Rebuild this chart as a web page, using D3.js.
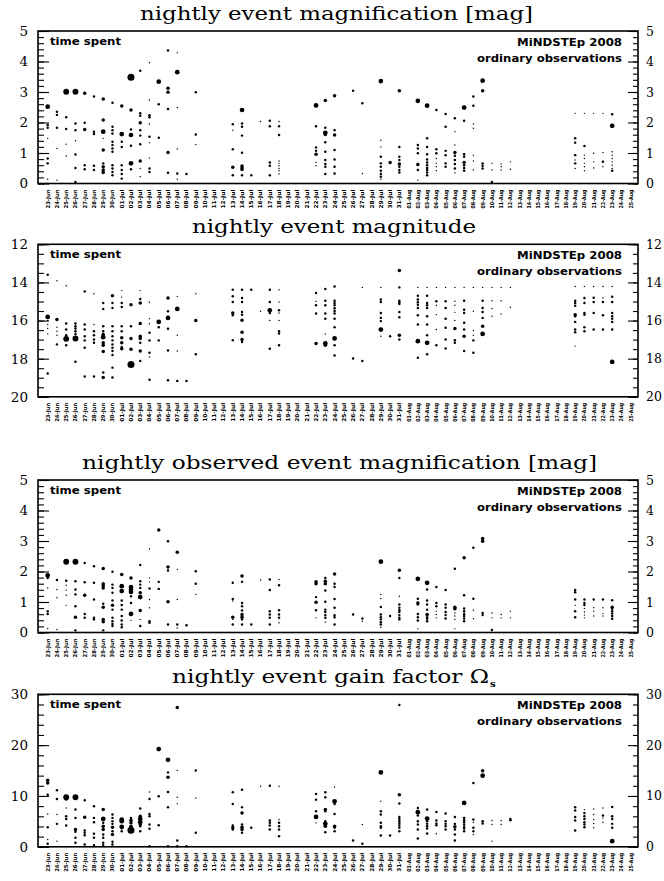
<!DOCTYPE html>
<html>
<head>
<meta charset="utf-8">
<script src="https://cdn.jsdelivr.net/npm/d3@7"></script>
<style>
  body { margin: 0; background: #fff; }
  svg { display: block; }
</style>
</head>
<body>
<svg id="chart" width="664" height="881"></svg>
<script>
// nights of the 2008 season shown on every x axis
const nights = [
  '23-Jun','24-Jun','25-Jun','26-Jun','27-Jun','28-Jun','29-Jun','30-Jun',
  '01-Jul','02-Jul','03-Jul','04-Jul','05-Jul','06-Jul','07-Jul','08-Jul',
  '09-Jul','10-Jul','11-Jul','12-Jul','13-Jul','14-Jul','15-Jul','16-Jul',
  '17-Jul','18-Jul','19-Jul','20-Jul','21-Jul','22-Jul','23-Jul','24-Jul',
  '25-Jul','26-Jul','27-Jul','28-Jul','29-Jul','30-Jul','31-Jul','01-Aug',
  '02-Aug','03-Aug','04-Aug','05-Aug','06-Aug','07-Aug','08-Aug','09-Aug',
  '10-Aug','11-Aug','12-Aug','13-Aug','14-Aug','15-Aug','16-Aug','17-Aug',
  '18-Aug','19-Aug','20-Aug','21-Aug','22-Aug','23-Aug','24-Aug','25-Aug',
];

// [night, [[value, time spent (min)], ...]]
const magnification = [
  ['23-Jun', [[2.52,55],[1.92,15],[1.83,15],[1.48,5],[0.82,15],[0.66,15],[0.14,5]]],
  ['24-Jun', [[2.35,15],[2.25,15],[1.83,15],[1.15,5],[0.11,5]]],
  ['25-Jun', [[3.01,85],[2.17,15],[1.79,15],[1.29,5],[0.9,5]]],
  ['26-Jun', [[3.01,85],[1.97,15],[1.75,15],[1.4,5],[0.95,15],[0.51,15],[0.05,15]]],
  ['27-Jun', [[2.96,30],[1.99,15],[1.77,30],[0.6,15],[0.47,15]]],
  ['28-Jun', [[2.85,15],[1.7,15],[1.62,15],[0.58,15],[0.44,15]]],
  ['29-Jun', [[2.77,30],[2.08,30],[1.7,55],[1.48,5],[1.1,30],[0.66,15],[0.55,30],[0.44,30],[0.36,30]]],
  ['30-Jun', [[2.65,15],[1.86,15],[1.75,15],[1.64,15],[1.37,15],[1.26,15],[1.15,15],[1.04,15],[0.6,15],[0.49,15],[0.38,15],[0.27,15]]],
  ['01-Jul', [[2.54,30],[1.62,55],[1.37,15],[1.2,15],[0.6,15],[0.44,15],[0.31,15],[0.16,15]]],
  ['02-Jul', [[3.48,120],[2.41,30],[1.77,15],[1.59,55],[1.24,15],[0.66,55],[0.47,15]]],
  ['03-Jul', [[3.7,15],[2.3,15],[2.22,15],[1.99,30],[1.75,15],[1.57,15],[1.29,15],[0.74,30],[0.49,5],[0.22,5]]],
  ['04-Jul', [[3.96,5],[2.74,5],[2.24,15],[2.17,15],[1.95,5],[1.53,15],[1.34,5],[0.84,5],[0.49,15],[0.38,15]]],
  ['05-Jul', [[3.34,55],[2.6,15],[1.5,15]]],
  ['06-Jul', [[4.36,15],[3.12,30],[2.99,30],[2.44,15],[1.02,30],[0.35,15]]],
  ['07-Jul', [[4.29,5],[3.65,55],[2.49,5],[1.13,5],[0.33,15],[0.14,5]]],
  ['08-Jul', [[0.31,15]]],
  ['09-Jul', [[2.99,15],[1.61,15],[1.28,5]]],
  ['13-Jul', [[1.94,15],[1.75,5],[1.12,15],[0.53,30],[0.27,15]]],
  ['14-Jul', [[2.41,55],[1.97,15],[1.86,15],[1.57,15],[1.01,15],[0.57,30],[0.51,30],[0.46,30],[0.27,15]]],
  ['15-Jul', [[0.27,15]]],
  ['16-Jul', [[2.03,5]]],
  ['17-Jul', [[2.06,15],[1.88,15],[0.69,15],[0.58,15],[0.27,15]]],
  ['18-Jul', [[2.03,5],[1.88,15],[1.59,15],[0.74,5],[0.66,5],[0.58,5],[0.49,5],[0.42,5],[0.31,5]]],
  ['22-Jul', [[2.56,55],[1.88,15],[1.18,15],[1.07,15],[0.96,30],[0.69,5],[0.58,5]]],
  ['23-Jul', [[2.72,30],[1.83,15],[1.66,55],[1.61,30],[1.35,15],[1.04,15],[0.77,15],[0.64,15],[0.55,15],[0.31,15]]],
  ['24-Jul', [[2.88,30],[1.75,15],[1.59,30],[1.1,15],[0.79,15],[0.55,15],[0.33,15]]],
  ['26-Jul', [[3.04,15]]],
  ['27-Jul', [[2.63,15],[0.33,5]]],
  ['29-Jul', [[3.36,55],[1.42,5],[1.2,5],[0.88,15],[0.66,15],[0.55,15],[0.42,15],[0.31,15],[0.22,15],[0.14,5]]],
  ['30-Jul', [[0.69,30]]],
  ['31-Jul', [[3.04,30],[1.2,15],[0.88,15],[0.77,15],[0.64,30],[0.55,15],[0.44,15],[0.36,15]]],
  ['02-Aug', [[2.71,55],[1.26,15],[1.15,15],[0.99,15],[0.62,30],[0.44,15],[0.11,5]]],
  ['03-Aug', [[2.55,55],[1.48,15],[1.2,15],[0.96,15],[0.79,15],[0.69,15],[0.6,15],[0.51,15],[0.44,15],[0.36,15],[0.27,15]]],
  ['04-Aug', [[2.41,15],[1.12,15],[0.99,15],[0.82,5],[0.66,5],[0.55,5],[0.42,5]]],
  ['05-Aug', [[2.28,15],[1.86,15],[1.07,15],[0.93,15],[0.66,15],[0.55,15]]],
  ['06-Aug', [[2.14,15],[1.7,5],[1.26,5],[1.02,30],[0.91,15],[0.77,15],[0.64,15],[0.49,15],[0.35,5]]],
  ['07-Aug', [[2.49,55],[2.06,15],[0.96,15],[0.88,15],[0.69,30],[0.6,15],[0.51,15],[0.42,15]]],
  ['08-Aug', [[2.85,15],[2.55,15],[1.95,5],[1.81,5],[0.93,5],[0.74,5],[0.44,5]]],
  ['09-Aug', [[3.37,55],[3.04,30],[0.66,15],[0.58,15],[0.49,15]]],
  ['10-Aug', [[0.66,5],[0.44,5],[0.05,15]]],
  ['11-Aug', [[0.64,5],[0.55,5],[0.44,5]]],
  ['12-Aug', [[0.71,5],[0.47,5]]],
  ['19-Aug', [[2.3,5],[1.48,15],[1.34,15],[0.93,15],[0.77,5],[0.66,15],[0.49,5]]],
  ['20-Aug', [[2.3,5],[1.23,15],[0.93,5],[0.82,5],[0.66,5],[0.55,5],[0.42,5]]],
  ['21-Aug', [[2.3,5],[0.99,5],[0.71,5],[0.51,5]]],
  ['22-Aug', [[2.3,5],[1.02,5],[0.71,15],[0.55,5]]],
  ['23-Aug', [[2.27,15],[1.89,55],[1.04,5],[0.93,5],[0.82,5],[0.71,5],[0.6,5],[0.49,5],[0.42,15]]],
];

const magnitude = [
  ['23-Jun', [[13.6,15],[15.81,55],[16.0,5],[16.21,5],[16.42,5],[16.7,5],[18.78,15]]],
  ['24-Jun', [[13.91,5],[15.95,30],[16.35,5],[16.56,5],[16.77,5],[17.25,15]]],
  ['25-Jun', [[14.17,5],[16.16,15],[16.47,15],[16.77,15],[16.96,85],[17.3,15]]],
  ['26-Jun', [[16.16,15],[16.3,15],[16.42,15],[16.56,15],[16.7,15],[16.94,85],[18.16,15]]],
  ['27-Jun', [[14.47,15],[16.21,15],[16.47,15],[16.82,15],[17.04,15],[17.43,15],[18.94,15]]],
  ['28-Jun', [[14.59,5],[16.21,5],[16.56,15],[16.77,15],[16.99,15],[17.17,15],[18.94,15]]],
  ['29-Jun', [[15.08,15],[15.39,15],[16.3,15],[16.56,15],[16.73,30],[16.87,55],[17.17,30],[17.29,30],[17.63,30],[18.73,15],[18.99,30]]],
  ['30-Jun', [[14.7,30],[15.08,15],[15.34,15],[16.3,15],[16.56,15],[16.82,15],[17.04,15],[17.25,15],[17.43,15],[17.6,15],[17.81,15],[18.47,15],[18.99,15]]],
  ['01-Jul', [[14.43,5],[14.77,5],[15.08,15],[15.29,15],[16.3,15],[16.56,15],[16.9,30],[17.17,30],[17.39,15],[17.48,30]]],
  ['02-Jul', [[15.17,30],[16.3,15],[16.94,30],[17.51,30],[18.3,120]]],
  ['03-Jul', [[14.43,5],[14.87,15],[15.08,30],[16.16,30],[16.82,30],[16.94,30],[17.17,15],[17.6,30],[18.12,15]]],
  ['04-Jul', [[15.04,5],[15.9,5],[16.17,5],[16.64,15],[17.04,15],[17.69,15],[17.91,5],[19.11,15]]],
  ['05-Jul', [[16.07,55],[16.35,15],[17.04,15]]],
  ['06-Jul', [[14.82,30],[15.51,15],[15.86,55],[16.43,15],[17.57,15],[19.13,15]]],
  ['07-Jul', [[14.73,5],[15.39,55],[16.77,5],[17.6,5],[19.17,15]]],
  ['08-Jul', [[19.17,15]]],
  ['09-Jul', [[14.59,5],[16.0,30],[17.77,15]]],
  ['13-Jul', [[14.38,15],[14.73,15],[15.03,15],[15.6,30],[15.72,15],[17.03,15]]],
  ['14-Jul', [[14.38,15],[14.82,15],[15.03,15],[15.55,15],[15.69,15],[15.98,30],[16.61,30],[16.99,30],[17.13,15]]],
  ['15-Jul', [[14.38,15]]],
  ['16-Jul', [[15.51,5]]],
  ['17-Jul', [[14.38,15],[15.03,15],[15.46,55],[15.6,15],[16.0,5],[17.48,15]]],
  ['18-Jul', [[14.38,5],[15.03,5],[15.46,15],[15.6,5],[16.0,5],[16.56,15],[16.68,15],[17.3,15]]],
  ['22-Jul', [[14.56,15],[14.99,5],[15.2,15],[15.63,15],[17.2,30]]],
  ['23-Jul', [[14.35,15],[14.96,15],[15.2,15],[15.63,15],[15.91,15],[16.7,5],[17.2,55],[17.3,30]]],
  ['24-Jul', [[14.21,15],[14.96,15],[15.08,15],[15.2,15],[15.35,15],[15.5,15],[15.63,15],[15.9,15],[16.35,15],[16.94,55],[17.3,15],[17.83,15]]],
  ['26-Jul', [[17.99,15]]],
  ['27-Jul', [[14.26,5],[18.12,15]]],
  ['29-Jul', [[14.26,5],[14.9,15],[15.03,15],[15.6,15],[15.86,15],[16.03,15],[16.47,55],[16.82,5]]],
  ['30-Jul', [[16.82,15]]],
  ['31-Jul', [[13.37,30],[14.26,15],[14.96,15],[15.04,15],[15.13,15],[15.55,15],[15.83,15],[16.77,30],[16.99,15]]],
  ['02-Aug', [[14.26,5],[14.7,15],[14.9,15],[15.04,15],[15.17,15],[15.34,15],[15.72,15],[16.21,15],[17.08,55],[17.95,15]]],
  ['03-Aug', [[14.26,5],[14.7,15],[15.08,15],[15.2,15],[15.34,15],[15.77,15],[16.21,15],[16.77,15],[17.17,55],[17.77,15]]],
  ['04-Aug', [[14.26,5],[14.99,15],[15.2,5],[15.69,5],[16.47,5],[17.3,15]]],
  ['05-Aug', [[14.26,5],[14.99,15],[15.34,15],[15.9,15],[16.38,15],[16.99,15],[17.46,15]]],
  ['06-Aug', [[14.26,5],[14.99,5],[15.2,5],[15.57,5],[16.0,5],[16.42,30],[17.03,15],[17.17,15]]],
  ['07-Aug', [[14.26,5],[14.96,15],[15.43,15],[15.6,15],[16.12,15],[16.47,15],[16.82,30],[17.6,15]]],
  ['08-Aug', [[14.26,5],[15.51,5],[16.52,5],[16.77,5],[17.04,15],[17.69,15]]],
  ['09-Aug', [[14.26,5],[14.96,15],[15.34,15],[15.55,15],[15.86,15],[16.3,30],[16.7,55]]],
  ['10-Aug', [[14.26,5],[14.96,5],[15.37,5],[15.77,5]]],
  ['11-Aug', [[14.26,5],[14.96,5],[15.65,5]]],
  ['12-Aug', [[14.26,5],[15.3,5]]],
  ['19-Aug', [[14.21,5],[14.96,15],[15.08,15],[15.22,15],[15.69,30],[15.77,15],[16.07,15],[16.47,15],[16.61,15],[17.34,5]]],
  ['20-Aug', [[14.21,5],[14.82,15],[15.08,15],[15.6,15],[15.69,15],[16.35,15],[16.56,15]]],
  ['21-Aug', [[14.21,5],[14.8,15],[15.03,15],[15.6,15],[16.47,15]]],
  ['22-Aug', [[14.21,5],[14.8,5],[15.03,15],[15.72,15],[16.47,15]]],
  ['23-Aug', [[14.21,5],[14.75,15],[15.03,15],[15.6,15],[15.77,15],[15.91,15],[16.07,15],[16.47,15],[18.17,55]]],
];

const observedMagnification = [
  ['23-Jun', [[1.87,55],[1.79,15],[1.46,5],[0.7,15],[0.61,15],[0.13,5]]],
  ['24-Jun', [[1.72,15],[1.41,5],[1.14,5],[0.1,5]]],
  ['25-Jun', [[2.32,85],[1.7,15],[1.55,5],[1.39,5],[1.22,5],[0.89,5]]],
  ['26-Jun', [[2.32,85],[1.68,15],[1.41,15],[1.25,15],[0.86,15],[0.5,30],[0.07,15]]],
  ['27-Jun', [[2.28,15],[1.65,15],[1.22,30],[0.61,15],[0.48,15]]],
  ['28-Jun', [[2.17,15],[1.63,15],[1.08,15],[0.48,15],[0.43,15]]],
  ['29-Jun', [[2.1,30],[1.6,30],[1.54,30],[1.46,30],[0.94,15],[0.83,30],[0.43,30],[0.35,30],[0.07,15]]],
  ['30-Jun', [[1.99,15],[1.57,15],[1.46,15],[1.3,15],[1.05,15],[0.89,30],[0.75,15],[0.48,15],[0.37,15],[0.28,15],[0.21,15]]],
  ['01-Jul', [[1.9,30],[1.52,55],[1.36,55],[1.05,15],[0.9,15],[0.75,15],[0.54,15],[0.39,15],[0.26,15],[0.17,15]]],
  ['02-Jul', [[1.79,30],[1.49,55],[1.41,55],[1.33,55],[1.19,15],[0.97,15],[0.61,55],[0.39,5]]],
  ['03-Jul', [[2.21,15],[1.68,15],[1.57,15],[1.46,15],[1.3,30],[1.16,55],[0.72,30],[0.43,5],[0.21,15]]],
  ['04-Jul', [[2.74,5],[1.79,5],[1.66,5],[1.44,15],[1.08,5],[0.81,5],[0.37,15],[0.32,15]]],
  ['05-Jul', [[3.36,30],[1.66,15],[1.43,15]]],
  ['06-Jul', [[2.99,15],[2.15,30],[2.03,15],[1.01,30],[0.26,15]]],
  ['07-Jul', [[2.63,30],[2.07,5],[1.08,5],[0.26,15],[0.15,5]]],
  ['08-Jul', [[0.24,15]]],
  ['09-Jul', [[2.01,15],[1.6,15],[1.25,5]]],
  ['13-Jul', [[1.63,15],[1.1,15],[1.03,5],[0.5,30],[0.43,5],[0.26,15]]],
  ['14-Jul', [[1.85,30],[1.66,15],[0.97,15],[0.86,15],[0.72,15],[0.59,30],[0.5,30],[0.43,15],[0.26,15]]],
  ['15-Jul', [[0.26,15]]],
  ['16-Jul', [[1.72,5]]],
  ['17-Jul', [[1.74,15],[1.39,15],[0.7,15],[0.59,15],[0.48,15],[0.26,15]]],
  ['18-Jul', [[1.74,5],[1.55,15],[0.73,15],[0.59,15],[0.48,15],[0.32,5]]],
  ['22-Jul', [[1.66,30],[1.6,30],[1.16,15],[0.99,30],[0.73,15],[0.48,5]]],
  ['23-Jul', [[1.79,15],[1.68,30],[1.6,30],[1.38,15],[1.01,15],[0.75,15],[0.67,15],[0.57,15],[0.48,15],[0.34,5]]],
  ['24-Jul', [[1.92,30],[1.6,15],[1.49,15],[1.1,15],[0.81,15],[0.57,15],[0.5,15],[0.26,15]]],
  ['26-Jul', [[0.59,15]]],
  ['27-Jul', [[0.46,15],[0.37,5]]],
  ['29-Jul', [[2.32,55],[1.25,5],[1.11,5],[0.84,15],[0.59,15],[0.5,15],[0.43,15],[0.34,15],[0.26,15],[0.17,5]]],
  ['30-Jul', [[0.54,15]]],
  ['31-Jul', [[2.04,30],[1.79,15],[1.19,5],[0.92,15],[0.81,15],[0.73,15],[0.67,15],[0.57,15],[0.48,15],[0.43,15]]],
  ['02-Aug', [[1.76,55],[1.11,15],[0.97,30],[0.92,15],[0.61,15],[0.5,15],[0.39,15],[0.12,5]]],
  ['03-Aug', [[1.63,55],[1.41,15],[1.05,15],[0.92,15],[0.75,15],[0.59,30],[0.5,15],[0.45,15],[0.37,15]]],
  ['04-Aug', [[1.49,15],[0.97,15],[0.86,15],[0.7,5],[0.59,5],[0.48,5]]],
  ['05-Aug', [[1.39,15],[0.92,15],[0.81,15],[0.67,15],[0.57,15],[0.46,15]]],
  ['06-Aug', [[2.09,15],[0.83,30],[0.78,30],[0.64,5],[0.54,5],[0.43,5],[0.12,5]]],
  ['07-Aug', [[2.45,30],[1.22,15],[0.79,15],[0.7,15],[0.61,15],[0.54,15],[0.46,15],[0.37,15]]],
  ['08-Aug', [[2.78,15],[1.11,15],[0.73,5],[0.45,5]]],
  ['09-Aug', [[3.08,30],[2.99,30],[0.64,15],[0.57,15]]],
  ['10-Aug', [[0.64,5],[0.48,5],[0.08,15]]],
  ['11-Aug', [[0.59,5],[0.48,5]]],
  ['12-Aug', [[0.7,5],[0.48,5]]],
  ['19-Aug', [[1.39,15],[1.32,15],[1.08,15],[0.89,5],[0.7,15],[0.5,15]]],
  ['20-Aug', [[1.08,15],[0.97,15],[0.9,15],[0.79,5],[0.67,5],[0.57,5],[0.48,5]]],
  ['21-Aug', [[1.08,15],[0.81,5],[0.7,5],[0.54,5]]],
  ['22-Aug', [[1.08,15],[0.81,5],[0.62,5],[0.54,5]]],
  ['23-Aug', [[1.06,15],[0.83,30],[0.78,15],[0.7,15],[0.62,15],[0.54,15],[0.45,15]]],
];

const gainFactor = [
  ['23-Jun', [[13.07,30],[12.55,30],[10.26,15],[6.47,5],[3.86,15],[1.44,5],[0.59,15]]],
  ['24-Jun', [[11.11,15],[9.41,15],[6.34,5],[4.51,15],[1.11,5]]],
  ['25-Jun', [[9.74,85],[9.41,30],[7.65,5],[6.01,15],[5.49,15],[4.18,15]]],
  ['26-Jun', [[9.74,85],[7.32,15],[5.69,15],[3.4,30],[2.94,15],[1.76,15],[0.78,15]]],
  ['27-Jun', [[9.15,15],[5.82,30],[3.2,15],[2.75,15],[2.29,15],[0.46,15]]],
  ['28-Jun', [[7.97,15],[5.69,15],[4.84,15],[2.55,15],[1.76,15],[0.33,15]]],
  ['29-Jun', [[7.32,30],[5.49,55],[4.71,15],[4.05,30],[3.4,30],[2.42,15],[1.76,15],[0.78,15],[0.33,15]]],
  ['30-Jun', [[6.34,15],[5.69,15],[5.03,15],[4.51,15],[3.86,30],[3.07,15],[2.42,30],[0.98,15],[0.46,15]]],
  ['01-Jul', [[5.36,55],[5.03,55],[3.92,55],[3.73,30],[3.07,15]]],
  ['02-Jul', [[5.69,15],[5.23,30],[4.71,30],[4.05,30],[3.27,120]]],
  ['03-Jul', [[7.52,15],[6.01,30],[5.49,55],[4.84,55],[4.38,30],[4.05,15],[3.07,15]]],
  ['04-Jul', [[10.78,5],[9.41,15],[6.47,15],[6.01,15],[4.38,15],[3.53,15],[0.13,15]]],
  ['05-Jul', [[19.22,55],[9.93,15],[4.25,15]]],
  ['06-Jul', [[17.12,55],[14.64,15],[13.66,30],[10.78,15],[7.78,15],[0.13,15]]],
  ['07-Jul', [[27.39,30],[15.03,5],[9.74,5],[8.5,5],[1.24,15],[0.13,15]]],
  ['08-Jul', [[0.13,15]]],
  ['09-Jul', [[15.03,15],[9.61,5],[2.75,15]]],
  ['13-Jul', [[10.72,15],[8.43,15],[4.18,15],[3.73,30],[3.4,15]]],
  ['14-Jul', [[11.24,15],[7.78,15],[6.67,30],[4.38,15],[3.86,30],[3.4,30],[2.75,15]]],
  ['15-Jul', [[3.73,15]]],
  ['16-Jul', [[11.9,5]]],
  ['17-Jul', [[12.03,15],[5.16,15],[4.71,15],[4.18,15],[3.4,15]]],
  ['18-Jul', [[11.9,5],[5.36,5],[4.71,15],[4.05,15],[3.4,15],[2.09,15]]],
  ['22-Jul', [[10.39,15],[9.28,15],[6.99,15],[5.88,55],[4.71,5]]],
  ['23-Jul', [[10.72,15],[9.74,15],[7.32,30],[6.99,15],[5.03,15],[4.51,55],[4.05,30],[2.88,15]]],
  ['24-Jul', [[11.76,5],[8.95,55],[8.43,15],[6.47,15],[4.05,30],[3.73,15],[3.07,15]]],
  ['26-Jul', [[1.24,15]]],
  ['27-Jul', [[4.38,5],[0.59,15]]],
  ['29-Jul', [[14.64,55],[8.95,5],[6.99,15],[6.34,15],[4.71,15],[4.05,15],[3.73,15],[2.22,15]]],
  ['30-Jul', [[2.22,15]]],
  ['31-Jul', [[27.9,15],[10.26,30],[8.5,15],[5.88,15],[5.49,15],[5.03,15],[4.58,15],[4.18,15],[3.73,15],[3.07,15]]],
  ['02-Aug', [[7.65,15],[6.8,55],[6.14,15],[5.03,15],[4.38,15],[3.4,15],[1.63,15]]],
  ['03-Aug', [[7.32,15],[5.56,55],[5.03,15],[4.51,15],[4.05,15],[3.59,15],[2.61,15]]],
  ['04-Aug', [[6.86,15],[5.16,15],[4.58,15],[4.25,15],[2.55,5]]],
  ['05-Aug', [[6.54,15],[5.03,15],[4.51,15],[4.05,15],[3.4,15]]],
  ['06-Aug', [[5.88,15],[4.51,15],[3.92,30],[3.4,15],[2.42,15],[1.24,15]]],
  ['07-Aug', [[8.63,55],[5.69,15],[5.23,15],[4.84,15],[4.38,15],[3.92,15],[3.59,15],[3.07,15]]],
  ['08-Aug', [[12.55,15],[5.36,15],[4.84,5],[3.73,15],[3.07,15],[2.42,5]]],
  ['09-Aug', [[14.97,30],[13.99,55],[5.03,15],[4.58,15]]],
  ['10-Aug', [[5.16,5],[4.38,5],[1.11,5]]],
  ['11-Aug', [[5.16,5],[4.38,5]]],
  ['12-Aug', [[5.49,15],[5.23,15]]],
  ['19-Aug', [[7.78,15],[7.12,15],[5.88,15],[5.16,15],[3.2,15]]],
  ['20-Aug', [[7.32,5],[6.67,15],[6.01,15],[5.49,15],[4.84,15],[4.38,15],[3.86,15]]],
  ['21-Aug', [[7.45,5],[6.34,5],[5.36,5],[4.58,5],[3.73,5]]],
  ['22-Aug', [[7.65,5],[6.14,15],[5.69,5],[4.84,5]]],
  ['23-Aug', [[7.84,15],[6.01,15],[5.49,15],[4.51,15],[3.73,15],[1.11,55]]],
];

const magTicks = [0, 1, 2, 3, 4, 5];
const magnitudeTicks = [12, 14, 16, 18, 20];
const gainTicks = [0, 10, 20, 30];

const panels = [
  { title: 'nightly event magnification [mag]', rows: magnification,
    domain: [0, 5], ticks: magTicks, minor: 0.2, top: 31, titleX: 140, titleLen: 393 },
  { title: 'nightly event magnitude', rows: magnitude,
    domain: [20, 12], ticks: magnitudeTicks, minor: 0.5, top: 244.3, titleX: 192, titleLen: 284 },
  { title: 'nightly observed event magnification [mag]', rows: observedMagnification,
    domain: [0, 5], ticks: magTicks, minor: 0.2, top: 480, titleX: 82, titleLen: 515 },
  { title: 'nightly event gain factor \u03A9', sub: 's', rows: gainFactor,
    domain: [0, 30], ticks: gainTicks, minor: 2, top: 694.3, titleX: 172, titleLen: 317 },
];

const svg = d3.select('#chart');
const left = 38;
const right = 638;
const plotH = 152.5;

const x = d3.scalePoint().domain(nights).range([47.7, 630.7]);
const r = d3.scaleSqrt().domain([0, 120]).range([0, 3.5]);

svg.append('rect').attr('width', 664).attr('height', 881).attr('fill', '#fff');

panels.forEach((p) => {
  const bottom = p.top + plotH;
  const y = d3.scaleLinear().domain(p.domain).range([bottom, p.top]);
  const lo = Math.min(...p.domain);
  const hi = Math.max(...p.domain);
  const minorVals = d3.range(lo, hi + 1e-9, p.minor);
  const g = svg.append('g');

  // title
  g.append('text')
    .attr('x', p.titleX)
    .attr('y', p.top - 11.5)
    .attr('font-family', 'DejaVu Serif, serif')
    .attr('font-size', 18)
    .attr('textLength', p.titleLen)
    .attr('lengthAdjust', 'spacingAndGlyphs')
    .text(p.title);
  if (p.sub) {
    g.append('text')
      .attr('x', p.titleX + p.titleLen + 1)
      .attr('y', p.top - 7.5)
      .attr('font-family', 'DejaVu Serif, serif')
      .attr('font-size', 10)
      .attr('font-weight', 'bold')
      .text(p.sub);
  }

  // axes: ticks inward on both sides
  const styleAxis = (sel) => {
    sel.select('.domain').remove();
    sel.selectAll('line').attr('stroke', '#000').attr('stroke-width', 1.1);
    sel.selectAll('text')
      .attr('font-family', 'DejaVu Serif, serif')
      .attr('font-size', 13.5)
      .attr('fill', '#000');
  };
  g.append('g').attr('transform', `translate(${left},0)`)
    .call(d3.axisLeft(y).tickValues(minorVals).tickSize(-6).tickFormat(''))
    .call(styleAxis);
  g.append('g').attr('transform', `translate(${left},0)`)
    .call(d3.axisLeft(y).tickValues(p.ticks).tickSize(-11).tickPadding(10).tickFormat(d3.format('d')))
    .call(styleAxis);
  g.append('g').attr('transform', `translate(${right},0)`)
    .call(d3.axisRight(y).tickValues(minorVals).tickSize(-5).tickFormat(''))
    .call(styleAxis);
  g.append('g').attr('transform', `translate(${right},0)`)
    .call(d3.axisRight(y).tickValues(p.ticks).tickSize(-10).tickPadding(8).tickFormat(d3.format('d')))
    .call(styleAxis)
    .call((sel) => sel.selectAll('text').attr('font-size', 12.5));

  // frame
  g.append('rect')
    .attr('x', left).attr('y', p.top)
    .attr('width', right - left).attr('height', plotH)
    .attr('fill', 'none').attr('stroke', '#000').attr('stroke-width', 1.6);

  // date labels
  g.append('g').selectAll('text')
    .data(nights)
    .join('text')
    .attr('transform', (d) => `translate(${x(d)},${bottom + 6}) rotate(-90)`)
    .attr('dy', '0.35em')
    .attr('text-anchor', 'end')
    .attr('font-family', 'DejaVu Sans, sans-serif')
    .attr('font-weight', 'bold')
    .attr('font-size', 5.5)
    .attr('textLength', 19)
    .attr('lengthAdjust', 'spacingAndGlyphs')
    .text((d) => d);

  // corner notes
  const note = (txt, xx, yy, anchor, len) => g.append('text')
    .attr('x', xx).attr('y', yy)
    .attr('text-anchor', anchor)
    .attr('font-family', 'DejaVu Sans, sans-serif')
    .attr('font-weight', 'bold')
    .attr('font-size', 10.5)
    .attr('textLength', len)
    .attr('lengthAdjust', 'spacingAndGlyphs')
    .text(txt);
  note('time spent', 50, p.top + 14, 'start', 71);
  note('MiNDSTEp 2008', 622, p.top + 14.7, 'end', 105);
  note('ordinary observations', 622, p.top + 30.7, 'end', 145);

  // points
  const pts = p.rows.flatMap(([night, list]) =>
    list.map(([value, time]) => ({ night, value, time })));
  g.append('g').selectAll('circle')
    .data(pts)
    .join('circle')
    .attr('cx', (d) => x(d.night))
    .attr('cy', (d) => y(d.value))
    .attr('r', (d) => r(d.time))
    .attr('fill', '#000');
});
</script>
</body>
</html>
